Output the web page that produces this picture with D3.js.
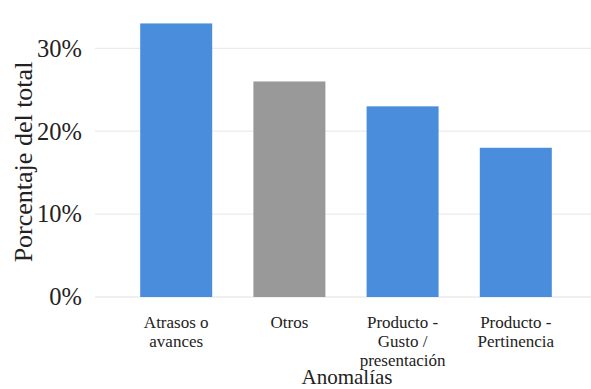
<!DOCTYPE html>
<html>
<head>
<meta charset="utf-8">
<script src="https://cdn.jsdelivr.net/npm/d3@7"></script>
<style>
  html, body { margin: 0; padding: 0; background: #fff; }
  svg { display: block; }
  text { font-family: "Liberation Serif", "Times New Roman", serif; fill: #222; }
</style>
</head>
<body>
<div id="chart"></div>
<script>
const categories = ["Atrasos o avances", "Otros", "Producto - Gusto / presentación", "Producto - Pertinencia"];
const labelLines = [["Atrasos o", "avances"], ["Otros"], ["Producto -", "Gusto /", "presentación"], ["Producto -", "Pertinencia"]];
const values = [0.33, 0.26, 0.23, 0.18];
const barColors = ["#4a8ddc", "#999999", "#4a8ddc", "#4a8ddc"];
const yTicks = [0, 0.1, 0.2, 0.3];
const yTitle = "Porcentaje del total";
const xTitle = "Anomalías";

const W = 591, H = 389;
const svg = d3.select("#chart").append("svg").attr("width", W).attr("height", H);

const x = d3.scaleBand().domain(categories).range([119.6, 572.4]).paddingInner(0.364).paddingOuter(0.182);
const y = d3.scaleLinear().domain([0, 0.3]).range([297, 48.3]);

// gridlines
svg.append("g").selectAll("line").data(yTicks).join("line")
  .attr("x1", 95).attr("x2", 591)
  .attr("y1", d => y(d)).attr("y2", d => y(d))
  .attr("stroke", "#ebebeb").attr("stroke-width", 1.3);

// bars
svg.append("g").selectAll("rect").data(values).join("rect")
  .attr("x", (d, i) => x(categories[i]))
  .attr("width", x.bandwidth())
  .attr("y", d => y(d))
  .attr("height", d => y(0) - y(d))
  .attr("fill", (d, i) => barColors[i]);

// y axis
const yAxis = d3.axisLeft(y).tickValues(yTicks).tickFormat(d3.format(".0%")).tickSize(0).tickPadding(0);
const gy = svg.append("g").attr("transform", "translate(82,0)").call(yAxis);
gy.select(".domain").remove();
gy.selectAll("text").attr("font-size", 24.5).attr("fill", "#222")
  .attr("font-family", "Liberation Serif, serif");

// x axis
const xAxis = d3.axisBottom(x).tickSize(0).tickFormat("");
const gx = svg.append("g").attr("transform", "translate(0,297)").call(xAxis);
gx.select(".domain").remove();
gx.selectAll(".tick").each(function(d, i) {
  const t = d3.select(this).append("text")
    .attr("text-anchor", "middle")
    .attr("font-size", 17)
    .attr("fill", "#222")
    .attr("font-family", "Liberation Serif, serif");
  labelLines[i].forEach((ln, k) => {
    t.append("tspan").attr("x", 0).attr("y", 31 + k * 19).text(ln);
  });
});

// titles
svg.append("text")
  .attr("transform", "translate(32,162) rotate(-90)")
  .attr("text-anchor", "middle")
  .attr("font-size", 26)
  .text(yTitle);

svg.append("text")
  .attr("x", 347).attr("y", 384)
  .attr("text-anchor", "middle")
  .attr("font-size", 21)
  .text(xTitle);
</script>
</body>
</html>
